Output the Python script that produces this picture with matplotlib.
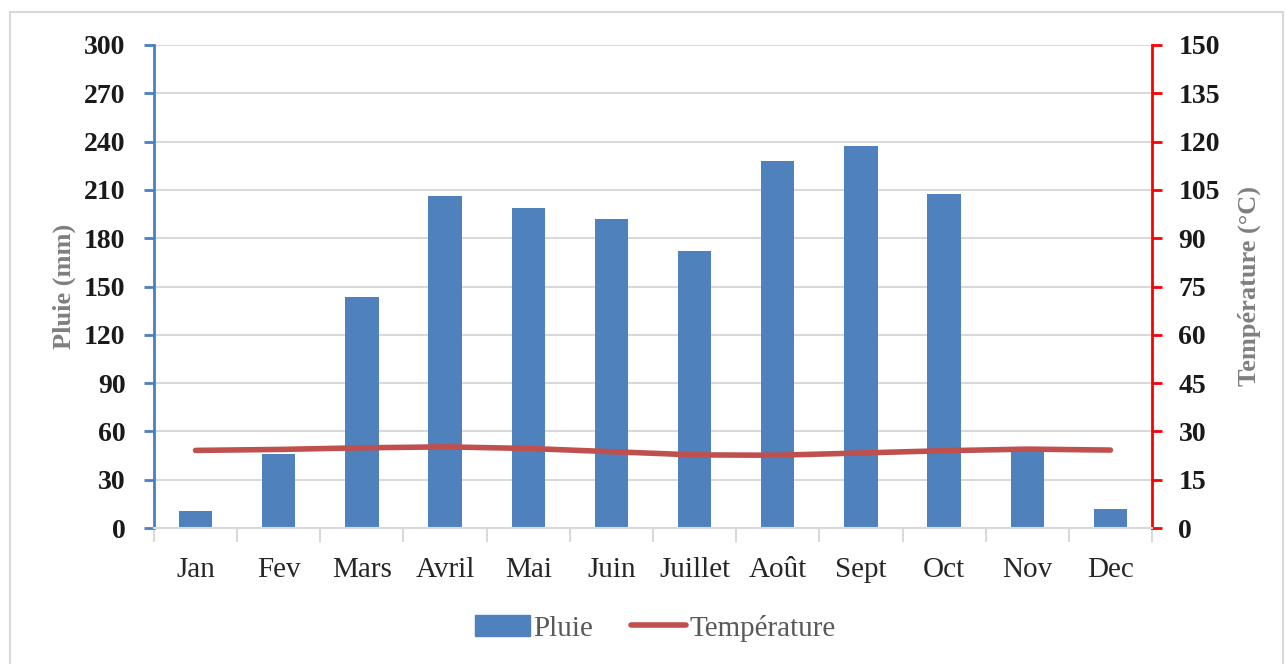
import matplotlib
matplotlib.use("Agg")
import matplotlib.pyplot as plt
from matplotlib.patches import Rectangle
from matplotlib.lines import Line2D
import numpy as np

# monthly climate normals
months = ["Jan", "Fev", "Mars", "Avril", "Mai", "Juin", "Juillet", "Août", "Sept", "Oct", "Nov", "Dec"]
pluie = [10.5, 46, 143.5, 206, 198.5, 192, 172, 228, 237, 207.5, 49, 12]
temperature = [24.1, 24.4, 24.9, 25.2, 24.7, 23.7, 22.7, 22.6, 23.3, 24.0, 24.5, 24.2]

pluie_ticks = list(range(0, 301, 30))
temp_ticks = list(range(0, 151, 15))

bar_color = "#4F81BD"
line_color = "#C0504D"
grid_color = "#D9D9D9"
label_gray = "#7F7F7F"

plt.rcParams['font.family'] = ['Liberation Serif', 'DejaVu Serif']

fig = plt.figure(figsize=(12.86, 6.64), dpi=100)
ax = fig.add_axes([154 / 1286, 1 - 528 / 664, (1152 - 154) / 1286, (528 - 45) / 664])
ax2 = ax.twinx()

x = np.arange(len(months))
ax.bar(x, pluie, width=0.4, color=bar_color, zorder=2)
ax2.plot(x, temperature, color=line_color, lw=4, solid_capstyle="round", zorder=3)

ax.set_xlim(-0.5, len(months) - 0.5)
ax.set_ylim(0, 300)
ax2.set_ylim(0, 150)
ax.set_yticks(pluie_ticks)
ax2.set_yticks(temp_ticks)

# horizontal grid
ax.yaxis.grid(True, color=grid_color, lw=1.5, zorder=0)
ax.set_axisbelow(True)

# category labels centred, tick marks on the boundaries
ax.set_xticks(x)
ax.set_xticklabels(months, fontsize=21, color="#262626")
ax.tick_params(axis="x", which="major", length=0, pad=21)
ax.set_xticks(np.arange(-0.5, len(months)), minor=True)
ax.tick_params(axis="x", which="minor", length=10, width=1.5, color=grid_color, direction="out")

for a in (ax, ax2):
    a.spines["top"].set_visible(False)
    a.spines["bottom"].set_color(grid_color)
    a.spines["bottom"].set_linewidth(1.5)
ax.spines["right"].set_visible(False)
ax2.spines["left"].set_visible(False)
ax.spines["left"].set_color("#4A7EC7")
ax.spines["left"].set_linewidth(2)
ax2.spines["right"].set_color("#FF0000")
ax2.spines["right"].set_linewidth(2)

ax.tick_params(axis="y", length=7, width=2, color="#4A7EC7", pad=13.5, labelsize=20)
ax2.tick_params(axis="y", length=7, width=2, color="#FF0000", pad=12, labelsize=20)
for lbl in ax.get_yticklabels() + ax2.get_yticklabels():
    lbl.set_fontweight("bold")
    lbl.set_color("#1a1a1a")

ax.set_ylabel("Pluie (mm)", fontsize=19, fontweight="bold", color=label_gray, labelpad=6)
ax2.set_ylabel("Température (°C)", fontsize=19, fontweight="bold", color=label_gray, labelpad=13)

handles = [Rectangle((0, 0), 1, 1, color=bar_color),
           Line2D([0], [0], color=line_color, lw=4, solid_capstyle="round")]
leg = fig.legend(handles, ["Pluie", "Température"], loc="center", bbox_to_anchor=(655 / 1286, 1 - 628 / 664),
                 ncol=2, frameon=False, fontsize=21, handlelength=1.9, handletextpad=0.1, columnspacing=1.3)
for t in leg.get_texts():
    t.set_color("#595959")

# outer chart border
fig.patches.append(Rectangle((10 / 1286, -0.02), 1273 / 1286, 1 - 12 / 664 + 0.02, transform=fig.transFigure,
                             fill=False, edgecolor=grid_color, lw=1.5))

fig.savefig("out.png", dpi=100)
